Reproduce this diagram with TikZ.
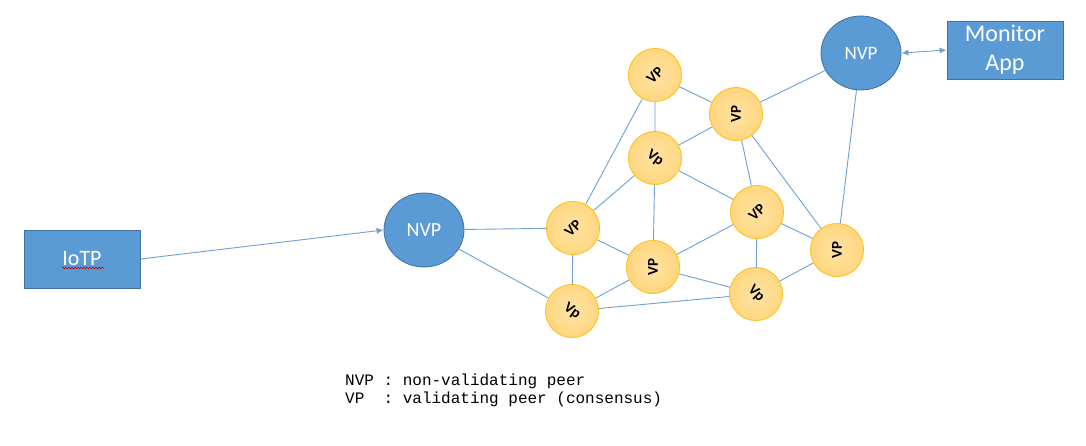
\documentclass[tikz,border=0pt]{standalone}
\usepackage{fontspec}
\setmainfont{Carlito}
\newfontfamily\legendfont{Liberation Mono}
\usetikzlibrary{shapes.geometric,arrows.meta,decorations.pathmorphing}
\definecolor{boxblue}{RGB}{91,155,213}
\definecolor{boxedge}{RGB}{65,113,156}
\definecolor{linkblue}{RGB}{110,160,210}
\definecolor{vpfill}{RGB}{255,214,125}
\definecolor{vpedge}{RGB}{255,195,40}
\tikzset{
  bluebox/.style={rectangle, fill=boxblue, draw=boxedge, line width=0.8pt, text=white,
    minimum width=116pt, minimum height=58pt, inner sep=0pt, align=center},
  nvpnode/.style={ellipse, fill=boxblue, draw=boxedge, line width=0.8pt, text=white,
    minimum width=80pt, minimum height=74pt, inner sep=0pt, font=\fontsize{20}{22}\selectfont},
  vpnode/.style={circle, draw=vpedge, line width=1pt, inner color=vpfill!70!white, outer color=vpfill,
    minimum size=53pt, inner sep=0pt, font=\bfseries\fontsize{15}{16}\selectfont, text=black},
  link/.style={draw=linkblue, line width=0.9pt},
  arr/.style={link, -{Latex[length=7pt,width=6pt]}},
  darr/.style={link, {Latex[length=7pt,width=6pt]}-{Latex[length=7pt,width=6pt]}}
}
\begin{document}
\begin{tikzpicture}[x=1pt,y=-1pt]
\useasboundingbox (0,0) rectangle (1086,445);
\fill[white] (0,0) rectangle (1086,445);

\node[bluebox, font=\fontsize{22}{24}\selectfont] (iotp) at (82,259) {IoTP};
\coordinate (sqa) at (62,268);
\coordinate (sqb) at (104,268);
\draw[red!80!black, line width=0.6pt, decorate, decoration={snake, amplitude=0.9pt, segment length=3pt}] (sqa) -- (sqb);

\node[nvpnode] (nvp1) at (424,230) {NVP};
\node[nvpnode, font=\fontsize{19}{21}\selectfont] (nvp2) at (861,53) {NVP};
\node[bluebox, font=\fontsize{24}{29}\selectfont] (mon) at (1005,50) {Monitor\\App};

\node[vpnode, rotate=45] (v1) at (655,75) {VP};
\node[vpnode, rotate=90] (v2) at (736,114) {VP};
\node[vpnode, rotate=-35] (v3) at (655,158) {Vp};
\node[vpnode, rotate=45] (v4) at (573,228) {VP};
\node[vpnode, rotate=90] (v5) at (653,267) {VP};
\node[vpnode, rotate=45] (v6) at (757,212) {VP};
\node[vpnode, rotate=90] (v7) at (837,250) {VP};
\node[vpnode, rotate=-35] (v8) at (572,311) {Vp};
\node[vpnode, rotate=-45] (v9) at (756,294) {Vp};

\draw[arr] (iotp.east) -- (nvp1.west);
\draw[darr] (nvp2.east) -- (mon.west);
\draw[link] (nvp1) -- (v4);
\draw[link] (nvp1) -- (v8);
\draw[link] (v1) -- (v2);
\draw[link] (v1) -- (v3);
\draw[link] (v1) -- (v4);
\draw[link] (v2) -- (v3);
\draw[link] (v2) -- (nvp2);
\draw[link] (v2) -- (v6);
\draw[link] (v2) -- (v7);
\draw[link] (v3) -- (v4);
\draw[link] (v3) -- (v5);
\draw[link] (v3) -- (v6);
\draw[link] (v4) -- (v5);
\draw[link] (v4) -- (v8);
\draw[link] (v5) -- (v8);
\draw[link] (v5) -- (v6);
\draw[link] (v5) -- (v9);
\draw[link] (v6) -- (v9);
\draw[link] (v6) -- (v7);
\draw[link] (v7) -- (v9);
\draw[link] (v7) -- (nvp2);
\draw[link] (v8) -- (v9);

\node[anchor=base west, inner sep=0pt, align=left, font=\legendfont\fontsize{16}{18}\selectfont] (legend) at (345,403)
  {NVP : non-validating peer\\VP{ }{ }: validating peer (consensus)};
\end{tikzpicture}
\end{document}
